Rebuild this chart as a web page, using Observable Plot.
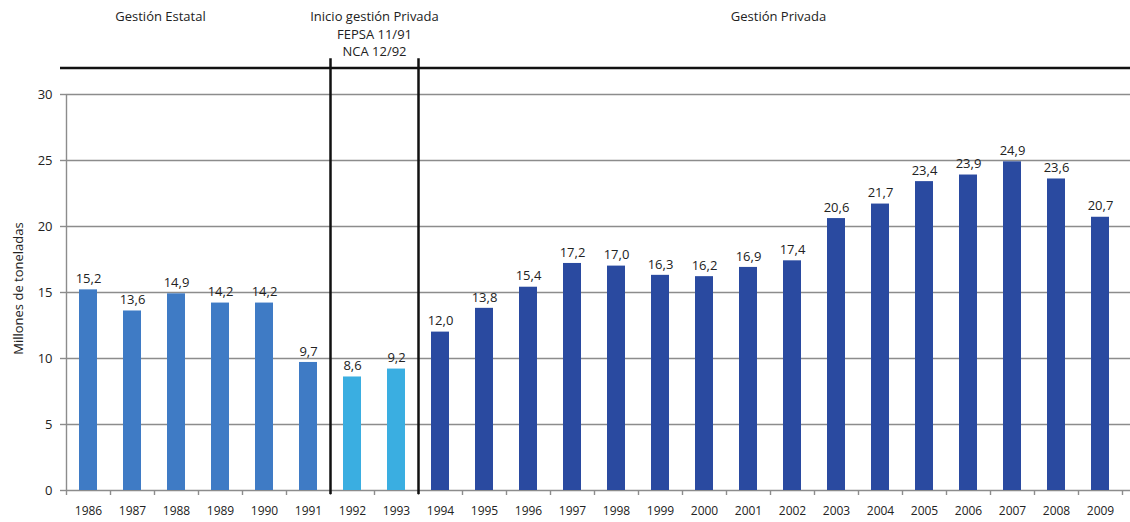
<!DOCTYPE html>
<html>
<head>
<meta charset="utf-8">
<script src="https://cdn.jsdelivr.net/npm/d3@7"></script>
<script src="https://cdn.jsdelivr.net/npm/@observablehq/plot@0.6"></script>
<style>
  html, body { margin: 0; padding: 0; background: #fff; overflow: hidden; }
  #chart svg { display: block; max-width: none !important; width: 1166px !important; height: 522px !important; }
</style>
</head>
<body>
<div id="chart"></div>
<script>
const years = ["1986","1987","1988","1989","1990","1991","1992","1993","1994","1995","1996","1997","1998","1999","2000","2001","2002","2003","2004","2005","2006","2007","2008","2009","2010"];
const values = [15.2,13.6,14.9,14.2,14.2,9.7,8.6,9.2,12.0,13.8,15.4,17.2,17.0,16.3,16.2,16.9,17.4,20.6,21.7,23.4,23.9,24.9,23.6,20.7,24.6];
const periods = ["Gestión Estatal","Inicio gestión Privada","Gestión Privada"];
const periodColors = ["#3f7bc5","#3aaee1","#2a4aa0"];
const headingLines = ["Inicio gestión Privada","FEPSA 11/91","NCA 12/92"];
const yTicks = [0,5,10,15,20,25,30];

const periodOf = y => (+y <= 1991 ? periods[0] : +y <= 1993 ? periods[1] : periods[2]);
const data = years.map((y, i) => ({year: y, value: values[i], period: periodOf(y)}));

const width = 1166, marginLeft = 66, marginRight = 0;
const step = (width - marginLeft - marginRight) / years.length;
const half = step / 2;
const font = "'Open Sans', sans-serif";
const fmt = d3.format(".1f");
const comma = v => fmt(v).replace(".", ",");
const textStyle = {fontSize: 13, fill: "#222"};

const chart = Plot.plot({
  width, height: 522,
  marginLeft, marginRight, marginTop: 94, marginBottom: 32,
  style: {fontFamily: font, fontSize: "12px", color: "#222", background: "#fff", overflow: "visible"},
  x: {domain: years, padding: 0.6, paddingOuter: 0.3, label: null},
  y: {domain: [0, 30], ticks: yTicks, label: null},
  color: {domain: periods, range: periodColors},
  marks: [
    Plot.gridY(yTicks, {stroke: "#8c8c8c", strokeOpacity: 1, strokeWidth: 1.4}),
    Plot.axisY(yTicks, {tickSize: 6, tickPadding: 8, stroke: "#8c8c8c", strokeWidth: 1.4, fontSize: 13, fill: "#222", label: null}),
    Plot.axisX({tickSize: 5, tickFormat: () => "", dx: -half, stroke: "#8c8c8c", strokeWidth: 1.4, label: null}),
    Plot.axisX({tickSize: 0, tickPadding: 16, fontSize: 12, fill: "#222", label: null}),
    Plot.ruleX(["1986"], {dx: -half, y1: 0, y2: 30, stroke: "#8c8c8c", strokeWidth: 1.4}),
    Plot.barY(data, {x: "year", y: "value", fill: "period"}),
    Plot.text(data, {x: "year", y: "value", text: d => comma(d.value), dy: -11, ...textStyle}),
    Plot.ruleY([32], {stroke: "#111", strokeWidth: 2.5, insetLeft: -6}),
    Plot.ruleX(["1992", "1994"], {dx: -half, y1: -0.3, y2: 32.7, stroke: "#111", strokeWidth: 2.5}),
    Plot.text([periods[0]], {x: () => "1988", dx: -16, y: 35.85, text: d => d, ...textStyle}),
    Plot.text([headingLines[0]], {x: () => "1993", dx: -half, y: 35.85, text: d => d, ...textStyle}),
    Plot.text([headingLines[1]], {x: () => "1993", dx: -half, y: 34.5, text: d => d, ...textStyle}),
    Plot.text([headingLines[2]], {x: () => "1993", dx: -half, y: 33.2, text: d => d, ...textStyle}),
    Plot.text([periods[2]], {x: () => "2002", dx: -14, y: 35.85, text: d => d, ...textStyle}),
    Plot.text(["Millones de toneladas"], {x: () => "1986", dx: -half - 48, y: 15.3, text: d => d, rotate: -90, ...textStyle})
  ]
});
document.getElementById("chart").appendChild(chart);
</script>
</body>
</html>
